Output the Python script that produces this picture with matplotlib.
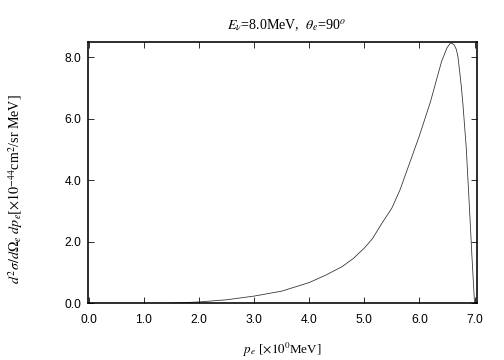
import matplotlib
matplotlib.use('Agg')
import matplotlib.pyplot as plt

plt.rcParams['mathtext.fontset'] = 'stix'

# momentum (MeV) and cross section (1e-44 cm^2/sr MeV)
p_e = [1.33, 1.6, 2.0, 2.5, 3.0, 3.5, 4.0, 4.3, 4.6, 4.8, 5.0, 5.15, 5.3, 5.5,
       5.65, 5.8, 6.0, 6.1, 6.2, 6.3, 6.4, 6.5, 6.55, 6.58, 6.63, 6.67, 6.7,
       6.73, 6.76, 6.79, 6.85, 6.91, 6.95, 6.99, 7.0]
xsec = [0.0, 0.015, 0.05, 0.12, 0.24, 0.40, 0.68, 0.92, 1.20, 1.46, 1.80, 2.11,
        2.55, 3.10, 3.70, 4.45, 5.45, 6.00, 6.55, 7.20, 7.85, 8.30, 8.43, 8.46,
        8.40, 8.25, 8.00, 7.54, 7.05, 6.46, 5.05, 3.03, 1.63, 0.33, 0.0]

xticks = [0.0, 1.0, 2.0, 3.0, 4.0, 5.0, 6.0, 7.0]
yticks = [0.0, 2.0, 4.0, 6.0, 8.0]

fig = plt.figure(figsize=(7, 5), dpi=72)
ax = fig.add_axes([0.175, 0.157, 0.772, 0.727])

ax.plot(p_e, xsec, color='#333333', lw=0.8)

ax.set_xlim(-0.01, 7.05)
ax.set_ylim(0, 8.5)
ax.set_xticks(xticks)
ax.set_xticklabels(['%.1f' % t for t in xticks])
ax.set_yticks(yticks)
ax.set_yticklabels(['%.1f' % t for t in yticks])
ax.tick_params(direction='in', length=6, width=0.8, top=True, right=True,
               labelsize=12, pad=7)
ax.tick_params(axis='x', pad=11)
for lab in ax.get_xticklabels() + ax.get_yticklabels():
    lab.set_family('Liberation Sans')
for s in ax.spines.values():
    s.set_linewidth(1.6)

ax.set_title(r'$E_\nu$=8.0MeV,  $\theta_e$=90$^o$', fontsize=14,
             family='Liberation Serif', pad=13, x=0.51)
ax.set_xlabel(r'$p_e$ [$\times10^0$MeV]', fontsize=13, family='Liberation Serif',
              labelpad=14)
ax.set_ylabel(r'$d^2\sigma/d\Omega_e\ dp_e[\times10^{-44}$cm$^2$/sr MeV]', fontsize=14,
              family='Liberation Serif')
ax.yaxis.set_label_coords(-0.162, 0.437)

fig.savefig('out.png', dpi=72)
